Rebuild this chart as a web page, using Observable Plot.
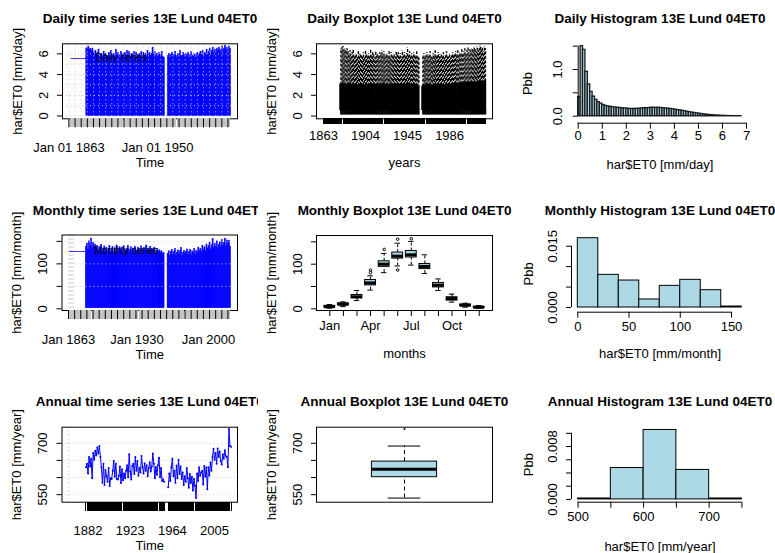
<!DOCTYPE html>
<html>
<head>
<meta charset="utf-8">
<script src="https://cdn.jsdelivr.net/npm/d3@7"></script>
<script src="https://cdn.jsdelivr.net/npm/@observablehq/plot@0.6"></script>
<style>
  body { margin: 0; background: #fff; }
  #fig { position: relative; width: 775px; height: 553px; overflow: hidden; background: #fff; }
  .cell { position: absolute; overflow: hidden; }
  .cell svg { overflow: hidden; }
</style>
</head>
<body>
<div id="fig"></div>
<script>
// ---------------- data ----------------
const station = "13E Lund 04ET0";

// calendar years with observations (1957–1959 missing)
const years = d3.range(1880, 2022);

// annual ET0 totals [mm/year]
const annualET0 = [
  630, 640, 612, 660, 632, 655, 598, 672, 652, 678,
  664, 688, 670, 692, 660, 630, 585, 640, 578, 622,
  604, 588, 628, 575, 598, 596, 620, 648, 602, 640,
  596, 594, 605, 632, 584, 624, 592, 612, 598, 620,
  636, 601, 668, 618, 594, 634, 640, 610, 660, 620,
  648, 605, 628, 615, 663, 630, 612, 642, 620, 636,
  604, 628, 645, 618, 632, 670, 640, 598, 631, 608,
  636, 658, 601, 628, 590, 595, 588,
  null, null, null,
  572, 612, 590, 630, 655, 604, 620, 585, 635, 598,
  652, 610, 632, 596, 615, 578, 604, 588, 628, 598,
  570, 610, 584, 602, 562, 596, 576, 540, 612, 590,
  630, 605, 615, 620, 580, 634, 603, 629, 566, 630,
  606, 644, 620, 660, 684, 652, 672, 640, 685, 660,
  676, 648, 638, 668, 655, 680, 662, 660, 630, 742,
  692, 690
];

// highest daily ET0 of each year [mm/day]
const dailyMax = [
  6.5, 6.6, 6.7, 6.4, 6.5, 6.3, 6.5, 6.2, 6.0, 6.3,
  5.9, 6.1, 6.4, 5.8, 5.9, 6.0, 5.7, 6.2, 5.9, 6.0,
  5.8, 5.7, 6.1, 5.6, 6.3, 5.9, 5.8, 6.0, 5.7, 6.4,
  5.8, 6.1, 5.9, 5.6, 6.2, 5.8, 6.0, 5.7, 6.1, 5.9,
  6.3, 5.8, 6.2, 5.7, 5.9, 6.0, 5.8, 6.2, 5.6, 6.1,
  5.9, 5.8, 6.0, 5.7, 6.2, 5.9, 6.1, 5.8, 6.0, 5.7,
  6.3, 5.9, 6.1, 5.8, 6.0, 6.6, 5.9, 6.2, 5.8, 6.0,
  5.7, 6.1, 5.9, 5.8, 6.2, 5.7, 5.6,
  null, null, null,
  5.8, 6.0, 5.6, 5.9, 6.1, 5.7, 5.9, 6.2, 5.8, 5.6,
  6.0, 5.9, 6.3, 5.7, 5.8, 6.1, 5.9, 5.7, 6.0, 5.8,
  6.1, 5.6, 5.9, 6.2, 5.8, 5.7, 6.0, 5.6, 5.9, 6.1,
  5.8, 6.0, 6.2, 5.9, 6.3, 5.8, 6.1, 6.0, 6.4, 5.9,
  6.2, 6.5, 6.0, 6.3, 6.6, 6.1, 6.4, 6.2, 6.5, 6.3,
  6.6, 6.4, 6.2, 6.7, 6.3, 6.5, 6.8, 6.4, 6.6, 6.2,
  6.7, 6.5
];

// upper quartile of daily ET0 in each year [mm/day]
const dailyQ3 = [
  3.0, 2.9, 3.1, 2.8, 3.0, 2.9, 2.8, 3.0, 2.9, 3.1,
  2.8, 2.9, 3.0, 2.8, 2.9, 3.0, 2.7, 2.9, 2.8, 3.0,
  2.9, 2.8, 3.0, 2.7, 2.9, 3.0, 2.8, 2.9, 2.8, 3.0,
  2.9, 2.8, 3.0, 2.9, 2.8, 2.9, 3.0, 2.8, 2.9, 3.0,
  2.8, 2.9, 3.1, 2.8, 2.9, 3.0, 2.8, 2.9, 2.7, 3.0,
  2.9, 2.8, 3.0, 2.9, 2.8, 3.0, 2.9, 2.8, 2.9, 3.0,
  2.8, 2.9, 3.0, 2.8, 2.9, 3.1, 2.9, 3.0, 2.8, 2.9,
  2.8, 3.0, 2.9, 2.8, 2.9, 2.8, 2.7,
  null, null, null,
  2.8, 2.9, 2.7, 2.9, 3.0, 2.8, 2.9, 3.0, 2.8, 2.7,
  2.9, 2.8, 3.0, 2.8, 2.9, 3.0, 2.8, 2.9, 3.0, 2.8,
  2.9, 2.7, 2.9, 3.0, 2.8, 2.9, 3.0, 2.8, 2.9, 3.0,
  2.9, 3.0, 3.1, 2.9, 3.0, 2.9, 3.1, 3.0, 3.1, 3.0,
  3.1, 3.2, 3.0, 3.1, 3.2, 3.0, 3.1, 3.2, 3.1, 3.0,
  3.2, 3.1, 3.0, 3.2, 3.1, 3.2, 3.3, 3.1, 3.2, 3.1,
  3.2, 3.3
];
// typical lower part of the yearly daily boxes [mm/day]
const dailyMin = 0.1, dailyQ1 = 0.6, dailyMedian = 1.5;

// highest monthly ET0 of each year [mm/month]
const monthlyMax = [
  138, 145, 132, 150, 141, 156, 136, 147, 139, 143,
  135, 140, 128, 137, 131, 142, 126, 134, 139, 129,
  136, 124, 133, 140, 127, 131, 138, 125, 134, 129,
  141, 126, 132, 137, 128, 135, 124, 139, 130, 127,
  133, 140, 126, 131, 137, 129, 134, 125, 138, 130,
  128, 136, 131, 126, 139, 133, 127, 135, 130, 141,
  129, 134, 126, 138, 131, 127, 133, 136, 124, 128,
  132, 126, 130, 125, 128, 122, 124,
  null, null, null,
  122, 128, 118, 126, 131, 120, 127, 133, 119, 125,
  130, 121, 128, 135, 118, 124, 129, 122, 127, 132,
  120, 126, 131, 119, 128, 124, 133, 121, 129, 125,
  136, 128, 133, 126, 140, 131, 137, 129, 143, 134,
  139, 147, 132, 141, 155, 136, 144, 138, 150, 135,
  142, 148, 137, 153, 140, 146, 156, 139, 152, 144,
  151, 138
];

// monthly boxplot statistics [mm/month]
const monthNames = ["Jan", "Feb", "Mar", "Apr", "May", "Jun", "Jul", "Aug", "Sep", "Oct", "Nov", "Dec"];
const monthLow  = [1.5, 5.0, 18.5, 42, 81, 96, 98, 79, 41, 15, 3.7, 1.5];
const monthQ1   = [3.2, 8.2, 23.5, 52.5, 94, 112.5, 115, 89, 48, 18.5, 6.2, 2.4];
const monthMed  = [4.8, 10.2, 27, 58, 100, 118, 121, 95, 53, 23, 8, 3.5];
const monthQ3   = [6.8, 12.5, 31, 64.5, 106.5, 126, 129.5, 100.5, 58, 26, 9.8, 4.8];
const monthHigh = [9.5, 15.5, 41, 74, 124, 147, 151, 121, 67, 33, 12.6, 7.4];
const monthOutMonth = [4, 4, 5, 6, 6, 7];
const monthOutValue = [81, 86.5, 133, 156, 87, 157];

// histogram of daily ET0 (bins of 0.1 mm/day starting at 0)
const dailyBinWidth = 0.1;
const dailyDensity = [
  0.41, 1.50, 1.42, 0.95, 0.68, 0.52, 0.42, 0.35, 0.30, 0.27,
  0.24, 0.22, 0.21, 0.20, 0.19, 0.185, 0.18, 0.175, 0.17, 0.165,
  0.16, 0.155, 0.155, 0.155, 0.158, 0.16, 0.165, 0.17, 0.172, 0.175,
  0.18, 0.18, 0.178, 0.18, 0.176, 0.17, 0.165, 0.16, 0.155, 0.148,
  0.14, 0.13, 0.124, 0.115, 0.105, 0.095, 0.086, 0.076, 0.068, 0.06,
  0.052, 0.045, 0.038, 0.032, 0.027, 0.022, 0.018, 0.014, 0.011, 0.008,
  0.006, 0.0045, 0.003, 0.002, 0.0014, 0.001, 0.0006, 0.0003
];

// histogram of monthly ET0
const monthlyBreaks = [0, 20, 40, 60, 80, 100, 120, 140, 160];
const monthlyDensity = [0.01696, 0.00799, 0.0066, 0.00196, 0.0053, 0.00677, 0.00424, 0.00024];

// histogram breaks for annual ET0
const annualBreaks = [500, 550, 600, 650, 700, 750];

// ---------------- layout helpers ----------------
const FONT = '"Liberation Sans", Arial, Helvetica, sans-serif';
const CW = 258, CH = 184;
const colX = [0, 258, 517], rowY = [0, 184, 369];
const GRID = {stroke: "#c8c8c8", strokeDasharray: "1,3"};
const CRISP = {shapeRendering: "crispEdges"};

function panel({col, row, frame, x, y, marks, title, titleY, titleX, xLabel, xLabelY, yLabel, yLabelX}) {
  const [l, r, t, b] = frame;
  const cx = colX[col], cy = rowY[row];
  const shift = titleX == null ? 0 : titleX - (l + r) / 2;
  const deco = [
    Plot.text([title], {text: d => d, frameAnchor: "top", dx: shift, dy: titleY - t,
      fontWeight: "bold", fontSize: 13.5, textAnchor: "middle", lineAnchor: "middle"})
  ];
  if (xLabel) deco.push(Plot.text([xLabel], {text: d => d, frameAnchor: "bottom", dx: shift, dy: xLabelY - b, textAnchor: "middle", lineAnchor: "middle"}));
  if (yLabel) deco.push(Plot.text([yLabel], {text: d => d, frameAnchor: "left", dx: yLabelX - l, rotate: -90, textAnchor: "middle", lineAnchor: "middle"}));
  const svg = Plot.plot({
    width: CW, height: CH,
    marginLeft: l - cx, marginRight: cx + CW - r,
    marginTop: t - cy, marginBottom: cy + CH - b,
    x: {label: null, ...x},
    y: {label: null, ...y},
    style: {fontFamily: FONT, fontSize: "13px", color: "#000", background: "transparent"},
    marks: [...marks, ...deco]
  });
  const div = document.createElement("div");
  div.className = "cell";
  Object.assign(div.style, {left: cx + "px", top: cy + "px", width: CW + "px", height: CH + "px"});
  div.append(svg);
  document.getElementById("fig").append(div);
}

const yAxis = (ticks, labels, extra = {}) => Plot.axisY({
  ticks, tickSize: 5, tickPadding: 10, tickRotate: -90, label: null,
  tickFormat: d => (labels.has(d) ? labels.get(d) : ""), ...extra
});

// ---------------- derived tables ----------------
const yearRows = years.map((year, i) => ({
  year, annual: annualET0[i], dmax: dailyMax[i], dq3: dailyQ3[i], mmax: monthlyMax[i]
}));
const obsYears = yearRows.filter(d => d.annual != null);
const allYears = d3.range(1863, 2022);
const dailyMajor = d3.range(1863, 2022, 6);
const monthlyFloor = d3.min(monthLow);

const months = monthNames.map((name, i) => ({
  m: i + 1, name, low: monthLow[i], q1: monthQ1[i], med: monthMed[i], q3: monthQ3[i], high: monthHigh[i]
}));
const monthOut = monthOutMonth.map((m, i) => ({m, v: monthOutValue[i]}));

const dailyHist = dailyDensity.map((density, i) => ({x0: i * dailyBinWidth, x1: (i + 1) * dailyBinWidth, density}));
const monthlyHist = monthlyDensity.map((density, i) => ({x0: monthlyBreaks[i], x1: monthlyBreaks[i + 1], density}));

const annualVals = obsYears.map(d => d.annual).sort(d3.ascending);
const aQ1 = d3.quantile(annualVals, 0.25), aMed = d3.quantile(annualVals, 0.5), aQ3 = d3.quantile(annualVals, 0.75);
const aIQR = aQ3 - aQ1;
const aLow = d3.min(annualVals.filter(v => v >= aQ1 - 1.5 * aIQR));
const aHigh = d3.max(annualVals.filter(v => v <= aQ3 + 1.5 * aIQR));
const aOut = annualVals.filter(v => v < aLow || v > aHigh);
const annualBox = [{k: 1, low: aLow, q1: aQ1, med: aMed, q3: aQ3, high: aHigh}];
const annualHist = d3.bin().domain([annualBreaks[0], annualBreaks[annualBreaks.length - 1]])
  .thresholds(annualBreaks.slice(1, -1))(annualVals)
  .map(b => ({x0: b.x0, x1: b.x1, density: b.length / (annualVals.length * (b.x1 - b.x0))}));

// ---------------- row 1: daily ----------------
const FA = [62, 237, 43.3, 118.3];
panel({
  col: 0, row: 0, frame: FA,
  x: {domain: [1856.64, 2028.36]}, y: {domain: [-0.27, 6.97]},
  title: "Daily time series " + station, titleY: 18.3,
  xLabel: "Time", xLabelY: 162, yLabel: "har$ET0 [mm/day]", yLabelX: 17,
  marks: [
    Plot.rect(yearRows.filter(d => d.dmax != null), {x1: "year", x2: d => d.year + 1, y1: 0, y2: "dmax", fill: "#0000ff", stroke: "#0000ff", strokeWidth: 0.6}),
    Plot.ruleY(d3.range(0, 7), GRID),
    Plot.ruleX(dailyMajor, GRID),
    Plot.text(["\u2014\u2014"], {text: d => d, frameAnchor: "top-left", dx: 8, dy: 9, fill: "#0000ff", fontSize: 11, textAnchor: "start"}),
    Plot.text(["Daily series"], {text: d => d, frameAnchor: "top-left", dx: 33, dy: 10, fontSize: 10, textAnchor: "start"}),
    Plot.frame({stroke: "#000"}),
    yAxis([0, 2, 4, 6], new Map([[0, "0"], [2, "2"], [4, "4"], [6, "6"]])),
    Plot.axisX({ticks: allYears, tickSize: 9, stroke: "#c4c4c4", tickFormat: () => "", label: null, ...CRISP}),
    Plot.axisX({ticks: dailyMajor, tickSize: 9, tickFormat: () => "", label: null}),
    Plot.axisX({ticks: [1863, 1950], tickSize: 0, tickPadding: 24, tickFormat: d => "Jan 01 " + d, label: null})
  ]
});

const FB = [316, 492, 43.3, 118.3];
const dailyBoxRows = yearRows.filter(d => d.dmax != null);
panel({
  col: 1, row: 0, frame: FB,
  x: {domain: [1856.14, 2027.86]}, y: {domain: [-0.27, 6.97]},
  title: "Daily Boxplot " + station, titleY: 18.3,
  xLabel: "years", xLabelY: 162.7, yLabel: "har$ET0 [mm/day]", yLabelX: 271.7,
  marks: [
    Plot.ruleX(dailyBoxRows, {x: "year", y1: dailyMin, y2: dailyQ1, strokeWidth: 1.6}),
    Plot.ruleX(dailyBoxRows, {x: "year", y1: "dq3", y2: "dmax", strokeDasharray: "3,1.5", strokeWidth: 1.3}),
    Plot.ruleY(dailyBoxRows, {y: "dmax", x1: d => d.year - 0.2, x2: d => d.year + 0.2}),
    Plot.rect(dailyBoxRows, {x1: d => d.year - 0.4, x2: d => d.year + 0.4, y1: dailyQ1, y2: "dq3", fill: "#add8e6", stroke: "#000", strokeWidth: 1.6}),
    Plot.ruleY(dailyBoxRows, {y: dailyMedian, x1: d => d.year - 0.4, x2: d => d.year + 0.4, strokeWidth: 2.5}),
    Plot.frame({stroke: "#000"}),
    yAxis([0, 2, 4, 6], new Map([[0, "0"], [2, "2"], [4, "4"], [6, "6"]])),
    Plot.axisX({ticks: allYears, tickSize: 6, tickFormat: () => "", label: null, ...CRISP}),
    Plot.axisX({ticks: [1863, 1904, 1945, 1986], tickSize: 0, tickPadding: 12, label: null, tickFormat: d => String(d)})
  ]
});

// the daily histogram axes sit on the zero lines (no padding around the bins)
const FC = [577.7, 746, 43.3, 122.7];
panel({
  col: 2, row: 0, frame: FC,
  x: {domain: [0, 7]}, y: {domain: [-0.15, 1.55]},
  title: "Daily Histogram " + station, titleY: 18.3, titleX: 659.5,
  xLabel: "har$ET0 [mm/day]", xLabelY: 164, yLabel: "Pbb", yLabelX: 527.7,
  marks: [
    Plot.rect(dailyHist, {x1: "x0", x2: "x1", y1: 0, y2: "density", fill: "#add8e6", stroke: "#1a1a1a", strokeWidth: 1.3}),
    Plot.ruleY([-0.15], {x1: 0, x2: 7}),
    Plot.ruleX([0], {y1: 0, y2: 1.5}),
    Plot.axisX({ticks: d3.range(0, 8), tickSize: 6, tickPadding: 2, label: null, tickFormat: d => String(d)}),
    yAxis([0, 0.5, 1, 1.5], new Map([[0, "0.0"], [1, "1.0"]]), {tickPadding: 11})
  ]
});

// ---------------- row 2: monthly ----------------
const FD = [61.5, 237, 234.5, 310];
panel({
  col: 0, row: 1, frame: FD,
  x: {domain: [1856.64, 2028.36]}, y: {domain: [-3.7, 164.2]},
  title: "Monthly time series " + station, titleY: 210,
  xLabel: "Time", xLabelY: 354, yLabel: "har$ET0 [mm/month]", yLabelX: 16.7,
  marks: [
    Plot.rect(yearRows.filter(d => d.mmax != null), {x1: "year", x2: d => d.year + 1, y1: monthlyFloor, y2: "mmax", fill: "#0000ff", stroke: "#0000ff", strokeWidth: 0.6}),
    Plot.ruleY([0, 50, 100, 150], GRID),
    Plot.ruleX(d3.range(1863, 1869), GRID),
    Plot.text(["\u2014\u2014"], {text: d => d, frameAnchor: "top-left", dx: 7, dy: 11, fill: "#0000ff", fontSize: 11, textAnchor: "start"}),
    Plot.text(["Monthly series"], {text: d => d, frameAnchor: "top-left", dx: 32, dy: 12, fontSize: 10, textAnchor: "start"}),
    Plot.frame({stroke: "#000"}),
    yAxis([0, 50, 100, 150], new Map([[0, "0"], [100, "100"]])),
    Plot.axisX({ticks: allYears, tickSize: 9, stroke: "#c4c4c4", tickFormat: () => "", label: null, ...CRISP}),
    Plot.axisX({ticks: dailyMajor, tickSize: 9, tickFormat: () => "", label: null}),
    Plot.axisX({ticks: [1863, 1930, 2000], tickSize: 0, tickPadding: 24, tickFormat: d => "Jan " + d, label: null})
  ]
});

const FE = [316, 492, 235, 310];
panel({
  col: 1, row: 1, frame: FE,
  x: {domain: [0.02, 12.98]}, y: {domain: [-3.7, 164.2]},
  title: "Monthly Boxplot " + station, titleY: 210,
  xLabel: "months", xLabelY: 353.3, yLabel: "har$ET0 [mm/month]", yLabelX: 271.7,
  marks: [
    Plot.ruleX(months, {x: "m", y1: "low", y2: "q1", strokeDasharray: "3,2"}),
    Plot.ruleX(months, {x: "m", y1: "q3", y2: "high", strokeDasharray: "3,2"}),
    Plot.ruleY(months, {y: "low", x1: d => d.m - 0.2, x2: d => d.m + 0.2}),
    Plot.ruleY(months, {y: "high", x1: d => d.m - 0.2, x2: d => d.m + 0.2}),
    Plot.rect(months, {x1: d => d.m - 0.4, x2: d => d.m + 0.4, y1: "q1", y2: "q3", fill: "#add8e6", stroke: "#000"}),
    Plot.ruleY(months, {y: "med", x1: d => d.m - 0.4, x2: d => d.m + 0.4, strokeWidth: 3}),
    Plot.dot(monthOut, {x: "m", y: "v", r: 1.3, stroke: "#000", strokeWidth: 1}),
    Plot.frame({stroke: "#000"}),
    yAxis([0, 50, 100, 150], new Map([[0, "0"], [100, "100"]])),
    Plot.axisX({ticks: d3.range(1, 13), tickSize: 6, tickPadding: 4, label: null,
      tickFormat: d => ([1, 4, 7, 10].includes(d) ? monthNames[d - 1] : "")})
  ]
});

const FF = [571, 748, 235, 311.7];
panel({
  col: 2, row: 1, frame: FF,
  x: {domain: [-6.15, 166.6]}, y: {domain: [-0.00115, 0.01762]},
  title: "Monthly Histogram " + station, titleY: 210,
  xLabel: "har$ET0 [mm/month]", xLabelY: 353.3, yLabel: "Pbb", yLabelX: 528.3,
  marks: [
    Plot.rect(monthlyHist, {x1: "x0", x2: "x1", y1: 0, y2: "density", fill: "#add8e6", stroke: "#000"}),
    Plot.ruleY([-0.00115], {x1: 0, x2: 150}),
    Plot.ruleX([-6.15], {y1: 0, y2: 0.015}),
    Plot.axisX({ticks: [0, 50, 100, 150], tickSize: 6, tickPadding: 4, label: null, tickFormat: d => String(d)}),
    yAxis([0, 0.005, 0.01, 0.015], new Map([[0, "0.000"], [0.015, "0.015"]]))
  ]
});

// ---------------- row 3: annual ----------------
const FG = [61.5, 237, 426.7, 501.7];
panel({
  col: 0, row: 2, frame: FG,
  x: {domain: [1856.68, 2027.32]}, y: {domain: [528, 747]},
  title: "Annual time series " + station, titleY: 401,
  xLabel: "Time", xLabelY: 545, yLabel: "har$ET0 [mm/year]", yLabelX: 16.7,
  marks: [
    Plot.ruleY([550, 600, 650, 700], GRID),
    Plot.ruleX([1863], GRID),
    Plot.line(yearRows, {x: "year", y: "annual", stroke: "#0000ff", strokeWidth: 1}),
    Plot.dot(obsYears, {x: "year", y: "annual", r: 1, fill: "#0000ff"}),
    Plot.frame({stroke: "#000"}),
    yAxis([550, 600, 650, 700], new Map([[550, "550"], [700, "700"]])),
    Plot.axisX({ticks: obsYears.map(d => d.year), tickSize: 9, tickFormat: () => "", label: null, ...CRISP}),
    Plot.axisX({ticks: [1882, 1923, 1964, 2005], tickSize: 0, tickPadding: 24, tickFormat: d => String(d), label: null})
  ]
});

const FH = [316, 492, 426.7, 501.7];
panel({
  col: 1, row: 2, frame: FH,
  x: {domain: [0.46, 1.54], axis: null}, y: {domain: [528, 747]},
  title: "Annual Boxplot " + station, titleY: 401,
  yLabel: "har$ET0 [mm/year]", yLabelX: 271.7,
  marks: [
    Plot.ruleX(annualBox, {x: "k", y1: "low", y2: "q1", strokeDasharray: "4,3"}),
    Plot.ruleX(annualBox, {x: "k", y1: "q3", y2: "high", strokeDasharray: "4,3"}),
    Plot.ruleY(annualBox, {y: "low", x1: d => d.k - 0.1, x2: d => d.k + 0.1}),
    Plot.ruleY(annualBox, {y: "high", x1: d => d.k - 0.1, x2: d => d.k + 0.1}),
    Plot.rect(annualBox, {x1: d => d.k - 0.2, x2: d => d.k + 0.2, y1: "q1", y2: "q3", fill: "#add8e6", stroke: "#000"}),
    Plot.ruleY(annualBox, {y: "med", x1: d => d.k - 0.2, x2: d => d.k + 0.2, strokeWidth: 3}),
    Plot.dot(aOut, {x: () => 1, y: d => d, r: 1, fill: "#000"}),
    Plot.frame({stroke: "#000"}),
    yAxis([550, 600, 650, 700], new Map([[550, "550"], [700, "700"]]))
  ]
});

const FI = [571, 748, 426.7, 501.7];
const aMaxDens = d3.max(annualHist, d => d.density);
panel({
  col: 2, row: 2, frame: FI,
  x: {domain: [490, 760]}, y: {domain: [-0.04 * aMaxDens, 1.04 * aMaxDens]},
  title: "Annual Histogram " + station, titleY: 401,
  xLabel: "har$ET0 [mm/year]", xLabelY: 546, yLabel: "Pbb", yLabelX: 528.3,
  marks: [
    Plot.rect(annualHist, {x1: "x0", x2: "x1", y1: 0, y2: "density", fill: "#add8e6", stroke: "#000"}),
    Plot.ruleY([-0.04 * aMaxDens], {x1: 500, x2: 750}),
    Plot.ruleX([490], {y1: 0, y2: 0.010}),
    Plot.axisX({ticks: [500, 550, 600, 650, 700, 750], tickSize: 6, tickPadding: 4, label: null,
      tickFormat: d => ([500, 600, 700].includes(d) ? String(d) : "")}),
    yAxis([0, 0.002, 0.004, 0.006, 0.008, 0.010], new Map([[0, "0.000"], [0.008, "0.008"]]))
  ]
});
</script>
</body>
</html>
